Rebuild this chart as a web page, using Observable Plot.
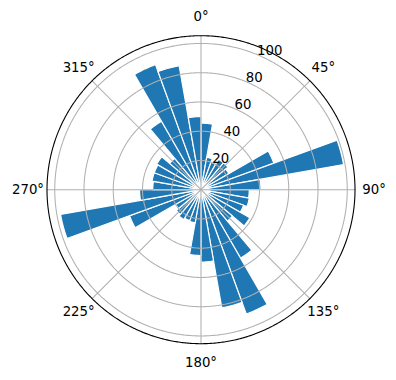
<!DOCTYPE html>
<html>
<head>
<meta charset="utf-8">
<script src="https://cdn.jsdelivr.net/npm/d3@7"></script>
<script src="https://cdn.jsdelivr.net/npm/@observablehq/plot@0.6"></script>
<style>
  html, body { margin: 0; padding: 0; background: #fff; }
  svg { display: block; }
</style>
</head>
<body>
<div id="chart"></div>
<script>
// Bar directions (degrees, clockwise from north) and their lengths
const directions = [5,15,25,35,45,55,65,75,85,95,105,115,125,135,145,155,165,175,
                    185,195,205,215,225,235,245,255,265,275,285,295,305,315,325,335,345,355];
const values = [45.5,22.5,20,24,24,22,53,99,41,33,33.5,31,38.5,28,54,90.5,82,49.5,
                45,23,22.5,23.5,22,20,52,97.5,42,33,34,34,35,28,54,91,86,50];
const binWidth = 10;
const thetaTicks = [0,45,90,135,180,225,270,315];
const thetaLabels = ["0°","45°","90°","135°","180°","225°","270°","315°"];
const rTicks = [20,40,60,80,100];
const rTickLabels = ["20","40","60","80","100"];
const rMax = 105.3;
const rLabelAngle = 22.5;
const thetaLabelR = 118.3;

const K = 0.5; // projection degrees per data unit
const lon = th => 180 - th;
const lat = v => 90 - v * K;

const bars = directions.map((th, i) => {
  const a0 = th - binWidth / 2, a1 = th + binWidth / 2;
  const outer = d3.range(a0, a1 + 1e-6, 0.5).map(a => [lon(a), lat(values[i])]);
  const inner = [[lon(a1), 89.995], [lon(a0), 89.995]];
  return {type: "Polygon", coordinates: [[...outer, ...inner, outer[0]]]};
});

const circles = rTicks.map(r => d3.geoCircle().center([0, 90]).radius(r * K).precision(0.5)());
const frame = d3.geoCircle().center([0, 90]).radius(rMax * K).precision(0.5)();
const spokes = thetaTicks.map(t => ({type: "LineString", coordinates: [[lon(t), 89.999], [lon(t), lat(rMax)]]}));

const chart = Plot.plot({
  width: 396,
  height: 380,
  marginLeft: 46.5,
  marginRight: 41.5,
  marginTop: 35.2,
  marginBottom: 36.8,
  style: {fontFamily: "DejaVu Sans", fontSize: "13.3px", color: "#000", background: "#fff"},
  projection: {
    type: "azimuthal-equidistant",
    rotate: [0, -90],
    domain: frame,
    inset: 0,
    clip: false
  },
  marks: [
    Plot.geo(bars, {fill: "#1f77b4", stroke: "#fff", strokeWidth: 1.2}),
    Plot.geo(circles, {fill: "none", stroke: "#b0b0b0", strokeWidth: 1.05}),
    Plot.geo(spokes, {stroke: "#b0b0b0", strokeWidth: 1.05}),
    Plot.geo([frame], {fill: "none", stroke: "#000", strokeWidth: 1.1}),
    Plot.text(thetaTicks, {
      x: d => lon(d), y: () => lat(thetaLabelR),
      text: (d, i) => thetaLabels[i],
      textAnchor: "middle", lineAnchor: "middle",
      fontSize: 13.3, fill: "#000", clip: false
    }),
    Plot.text(rTicks, {
      x: () => lon(rLabelAngle), y: d => lat(d),
      text: (d, i) => rTickLabels[i],
      textAnchor: "start", lineAnchor: "bottom",
      fontSize: 13.3, fill: "#000"
    })
  ]
});
document.getElementById("chart").appendChild(chart);
</script>
</body>
</html>
